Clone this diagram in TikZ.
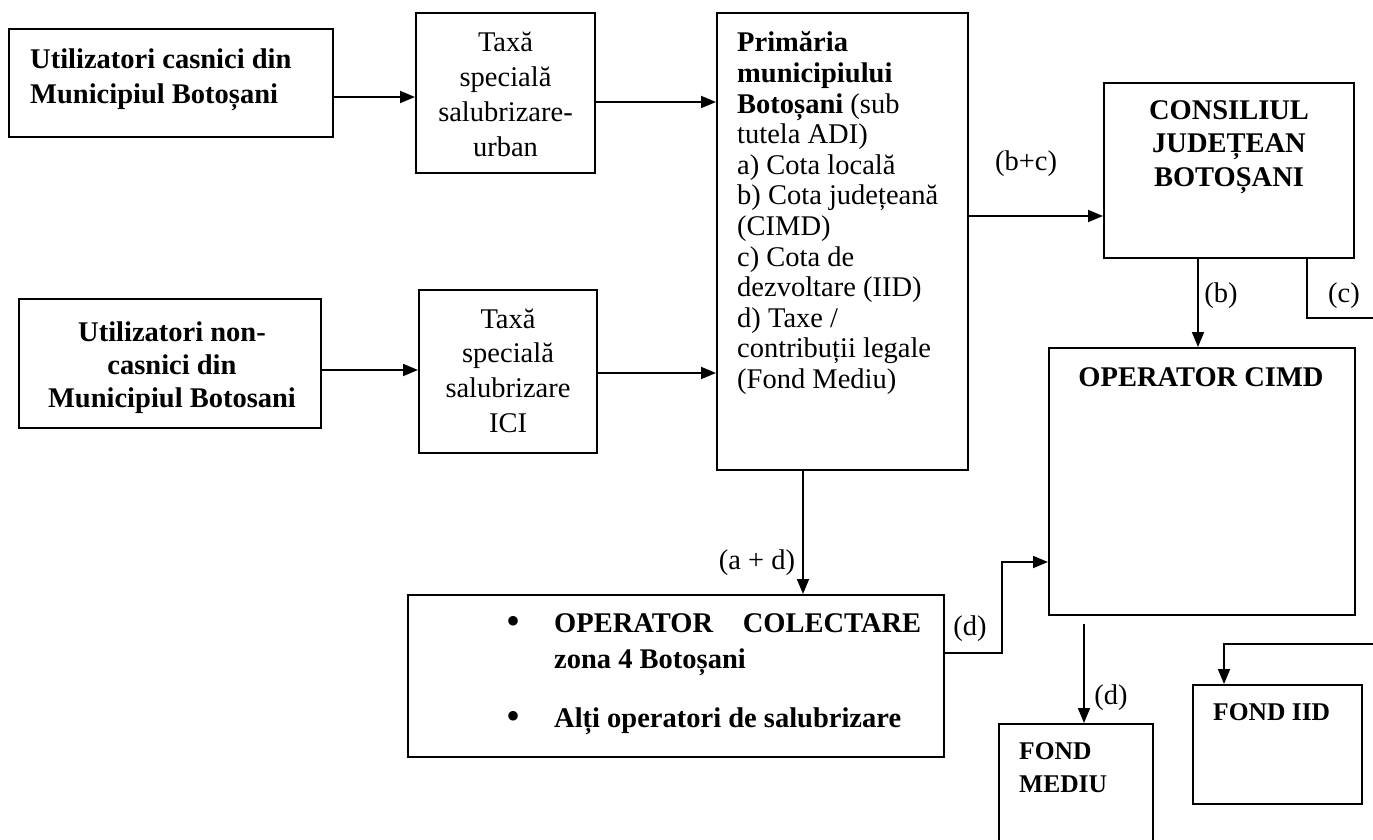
\documentclass[tikz,border=0pt]{standalone}
\usepackage{fontspec}
\setmainfont{Liberation Serif}
\usetikzlibrary{arrows.meta}
\newcommand\CL[1]{\vtop{\halign{\hfil##\hfil\cr#1\crcr}}}
\newcommand\LL[1]{\vtop{\halign{##\hfil\cr#1\crcr}}}
\newcommand\Fr[1]{\fontsize{28.5}{#1}\selectfont}
\tikzset{
 box/.style={draw, line width=2pt, inner sep=0pt},
 txt/.style={inner sep=0pt},
 bul/.style={inner sep=0pt, font=\fontsize{40}{40}\selectfont},
 arr/.style={line width=1.8pt, -{Triangle[length=15pt,width=12pt]}},
 con/.style={line width=1.8pt},
}
\begin{document}
\begin{tikzpicture}[x=1pt,y=-1pt]
\lineskiplimit=-1000pt
\useasboundingbox (0,0) rectangle (1373,840);
\clip (0,0) rectangle (1373,840);
\fill[white] (0,0) rectangle (1373,840);
% boxes
\node[box, minimum width=324pt, minimum height=108pt] (u1) at (171,83) {};
\node[box, minimum width=179pt, minimum height=160pt] (tx1) at (505.5,93) {};
\node[box, minimum width=302pt, minimum height=129pt] (u2) at (170,363.5) {};
\node[box, minimum width=178pt, minimum height=163pt] (tx2) at (508,371.5) {};
\node[box, minimum width=251pt, minimum height=457pt] (pm) at (842.5,241.5) {};
\node[box, minimum width=250pt, minimum height=175pt] (cj) at (1229,170.5) {};
\node[box, minimum width=306pt, minimum height=267pt] (cimd) at (1202,481.5) {};
\node[box, minimum width=536pt, minimum height=162pt] (col) at (676,676) {};
\node[box, minimum width=154pt, minimum height=152pt] (fm) at (1076,800) {};
\node[box, minimum width=169pt, minimum height=119pt] (iid) at (1277.5,744.5) {};
% texts
\node[txt, font=\Fr{35}\bfseries, anchor=base west] (t1) at (30,69) {\LL{Utilizatori casnici din\cr Municipiul Botoșani}};
\node[txt, font=\Fr{35}, anchor=base] (t2) at (505.5,52) {\CL{Taxă\cr specială\cr salubrizare-\cr urban}};
\node[txt, font=\Fr{33}\bfseries, anchor=base] (t3) at (172,341.5) {\CL{Utilizatori non-\cr casnici din\cr Municipiul Botosani}};
\node[txt, font=\Fr{34.7}, anchor=base] (t4) at (508,328) {\CL{Taxă\cr specială\cr salubrizare\cr ICI}};
\node[txt, font=\Fr{30.6}, anchor=base west] (t5) at (737,52) {\LL{\textbf{Primăria}\cr \textbf{municipiului}\cr \textbf{Botoșani} (sub\cr tutela ADI)\cr a) Cota locală\cr b) Cota județeană\cr (CIMD)\cr c) Cota de\cr dezvoltare (IID)\cr d) Taxe /\cr contribuții legale\cr (Fond Mediu)}};
\node[txt, font=\Fr{33.5}\bfseries, anchor=base] (t6) at (1229,119.5) {\CL{CONSILIUL\cr JUDEȚEAN\cr BOTOȘANI}};
\node[txt, font=\Fr{35}\bfseries, anchor=base] (t7) at (1201,386) {OPERATOR CIMD};
\node[bul, anchor=base] (b1) at (513,634) {\textbullet};
\node[txt, font=\Fr{36}\bfseries, anchor=base west] (t8) at (554,632) {\LL{\hbox to 367pt{OPERATOR\hfill COLECTARE}\cr zona 4 Botoșani}};
\node[bul, anchor=base] (b2) at (513,729) {\textbullet};
\node[txt, font=\Fr{35}\bfseries, anchor=base west] (t9) at (554,727) {Alți operatori de salubrizare};
\node[txt, font=\fontsize{25.5}{33}\selectfont\bfseries, anchor=base west] (t10) at (1019,759) {\LL{FOND\cr MEDIU}};
\node[txt, font=\fontsize{25.5}{33}\selectfont\bfseries, anchor=base west] (t11) at (1213,720.5) {FOND IID};
% labels
\node[txt, font=\Fr{35}, anchor=base] (l1) at (1026,170) {(b+c)};
\node[txt, font=\Fr{35}, anchor=base] (l2) at (1221,302) {(b)};
\node[txt, font=\Fr{35}, anchor=base] (l3) at (1344,302) {(c)};
\node[txt, font=\Fr{35}, anchor=base] (l4) at (757,569) {(a + d)};
\node[txt, font=\Fr{35}, anchor=base] (l5) at (970,635) {(d)};
\node[txt, font=\Fr{35}, anchor=base] (l6) at (1111,704) {(d)};
% connectors
\draw[arr] ([yshift=-14pt]u1.east) -- ([yshift=-14pt]u1.east -| tx1.west);
\draw[arr] ([yshift=-9pt]tx1.east) -- ([yshift=-9pt]tx1.east -| pm.west);
\draw[arr] ([yshift=-6.5pt]u2.east) -- ([yshift=-6.5pt]u2.east -| tx2.west);
\draw[arr] ([yshift=-1.5pt]tx2.east) -- ([yshift=-1.5pt]tx2.east -| pm.west);
\draw[arr] ([yshift=25.5pt]pm.east) -- ([yshift=25.5pt]pm.east -| cj.west);
\draw[arr] ([xshift=-31pt]cj.south) -- ([xshift=-31pt]cj.south |- cimd.north);
\coordinate (cEnd) at (1373,318);
\draw[con] ([xshift=78pt]cj.south) |- (cEnd);
\draw[arr] ([xshift=-39.5pt]pm.south) -- ([xshift=-39.5pt]pm.south |- col.north);
\coordinate (dIn) at ([yshift=-80.5pt]cimd.west);
\coordinate (dOut) at ([yshift=23pt]col.east);
\coordinate (dMid) at (1002,0);
\draw[arr] (dOut) -| (dMid |- dIn) -- (dIn);
\draw[arr] ([xshift=-118pt,yshift=-8pt]cimd.south) -- ([xshift=-118pt]cimd.south |- fm.north);
\coordinate (iSrc) at (1373,644);
\draw[arr] (iSrc) -| ([xshift=-53.5pt]iid.north);
\end{tikzpicture}
\end{document}
